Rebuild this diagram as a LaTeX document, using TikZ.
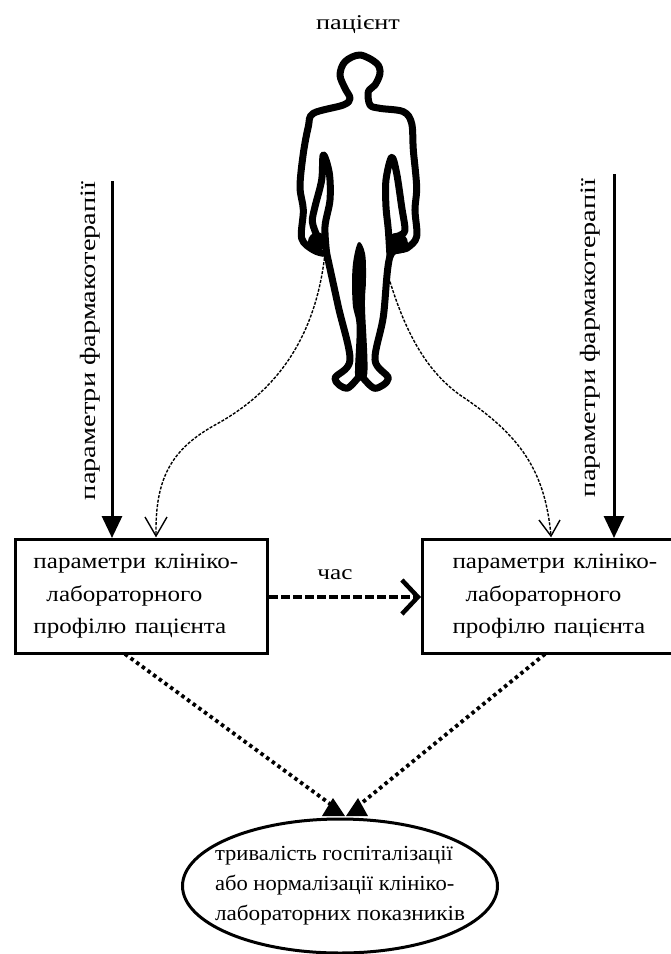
\documentclass[tikz,border=0pt]{standalone}
\usepackage{graphicx}
\usepackage{fontspec}
\setmainfont{Liberation Serif}
\usetikzlibrary{shapes.geometric,arrows.meta}
\newcommand{\wideline}[2]{\scalebox{#1}[1]{#2}}
\tikzset{
 profilebox/.style={draw,line width=3pt,rectangle,inner sep=0pt,anchor=north west,minimum height=114pt,align=left,font=\fontsize{22}{32.5}\selectfont},
 outcome/.style={draw,line width=3pt,ellipse,inner xsep=-15pt,inner ysep=0pt,minimum width=315pt,minimum height=134pt,align=left,font=\fontsize{21.5}{30}\selectfont},
 sidelabel/.style={rotate=90,font=\fontsize{22}{24}\selectfont},
 therapy/.style={line width=3pt,-{Triangle[length=22pt,width=20pt]}},
 thin curve/.style={line width=1.4pt,dash pattern=on 3pt off 1.5pt},
 timearrow/.style={line width=3.5pt,dash pattern=on 9pt off 3pt,-{Straight Barb[length=16pt,width=34pt,line width=4.5pt]}},
 dots/.style={line width=3.8pt,dash pattern=on 3.5pt off 3.5pt},
 outline/.style={line width=7pt,line join=round,line cap=round},
 openhead/.style={line width=1.4pt,line join=miter}
}
\begin{document}
\begin{tikzpicture}[x=1pt,y=-1pt]
\useasboundingbox (0,0) rectangle (670,954);
\node (patient) at (358,25) {\fontsize{21}{24}\selectfont\wideline{1.25}{пацієнт}};
% figure
\begin{scope}[shift={(280,40)},x=0.3333pt,y=-0.3333pt]
\draw[outline] plot[smooth,tension=0.55] coordinates {(140,640)(175,800)(210,960)(165,1015)(200,1045)(238,1010)(245,1010)(285,1045)(325,1015)(285,960)(310,830)(330,650)(380,625)(410,590)(405,510)(410,440)(400,330)(395,250)(370,215)(300,205)(270,195)(265,155)(285,135)(300,100)(290,70)(240,45)(195,65)(180,105)(195,145)(210,175)(190,195)(100,220)(85,260)(70,340)(60,440)(70,510)(65,595)(100,630)(130,640)};
\draw[outline] plot[smooth,tension=0.55] coordinates {(110,585)(97,545)(105,500)(125,420)(130,345)(148,400)(150,480)(135,560)(140,640)};
\draw[outline] plot[smooth,tension=0.55] coordinates {(360,585)(375,570)(365,500)(350,400)(335,352)(318,420)(318,500)(325,570)(330,650)};
\fill plot[smooth cycle,tension=0.6] coordinates {(235,607)(255,640)(258,720)(255,800)(262,1000)(235,1015)(225,1000)(230,860)(218,790)(218,680)};
\fill (112,605) circle[radius=28];
\fill (352,610) circle[radius=32];
\coordinate (handL) at (135,640);
\coordinate (handR) at (330,725);
\end{scope}
% boxes
\node[profilebox,text width=252pt] (boxL) at (14,538) {\hspace*{18pt}\wideline{1.14}{параметри клініко-}\\\hspace*{31pt}\wideline{1.14}{лабораторного}\\\hspace*{18pt}\wideline{1.14}{профілю пацієнта}};
\node[profilebox,text width=252pt] (boxR) at (421,538) {\hspace*{30pt}\wideline{1.14}{параметри клініко-}\\\hspace*{43pt}\wideline{1.14}{лабораторного}\\\hspace*{30pt}\wideline{1.14}{профілю пацієнта}};
\node[outcome] (out) at (340,886) {\wideline{1.05}{тривалість госпіталізації}\\\wideline{1.05}{або нормалізації клініко-}\\\wideline{1.08}{лабораторних показників}};
% side arrows
\coordinate (thL) at (112,181);
\coordinate (thR) at (614,174);
\draw[therapy] (thL) -- (thL |- boxL.north);
\draw[therapy] (thR) -- (thR |- boxR.north);
\node[sidelabel] (lblL) at (90,341) {\wideline{1.29}{параметри фармакотерапії}};
\node[sidelabel] (lblR) at (590,338) {\wideline{1.29}{параметри фармакотерапії}};
% thin curves
\coordinate (inL) at (156,536);
\coordinate (inR) at (551,536);
\draw[thin curve] (handL) .. controls (315,345) and (270,395) .. (215,425) .. controls (170,450) and (155,480) .. (inL);
\draw[thin curve] (handR) .. controls (405,330) and (425,370) .. (460,395) .. controls (520,435) and (545,470) .. (inR);
\draw[openhead] (145,517) -- (inL) -- (167,517);
\draw[openhead] (539,520) -- (inR) -- (560,520);
% time
\draw[timearrow] (boxL.east |- 0,597) -- (boxR.west |- 0,597);
\node (time) at (335,575) {\fontsize{21}{24}\selectfont\wideline{1.2}{час}};
% dotted
\coordinate (tipL) at (333,806);
\coordinate (tipR) at (358,806);
\draw[dots] (125,654) -- (tipL);
\draw[dots] (545,654) -- (tipR);
\fill (333,798) -- (345,816) -- (322,816) -- cycle;
\fill (358,798) -- (368,816) -- (346,816) -- cycle;
\end{tikzpicture}
\end{document}
